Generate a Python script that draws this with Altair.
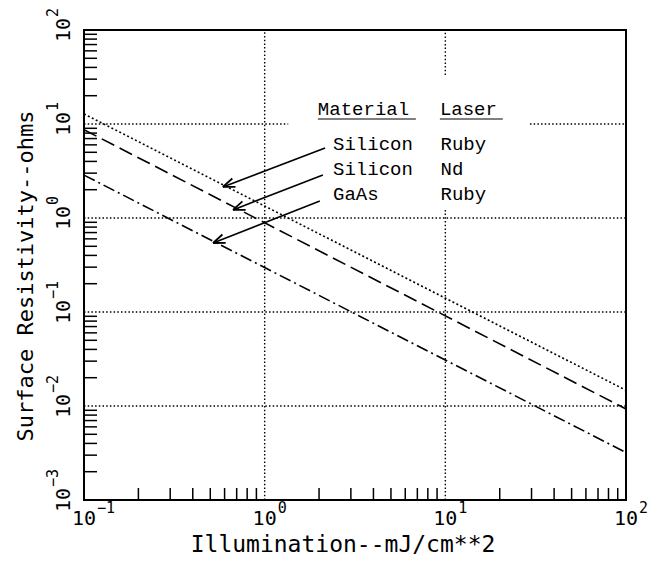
import math
import altair as alt
import pandas as pd

# ---------------- data ----------------
illumination = [0.1, 100]                 # mJ/cm**2, line end points
silicon_ruby = [12.8, 0.0147]             # ohms
silicon_nd = [8.7, 0.0093]
gaas_ruby = [2.86, 0.0032]
series_names = ["Silicon Ruby", "Silicon Nd", "GaAs Ruby"]

# legend block (data coordinates)
header_texts = ["Material", "Laser"]
header_x = [1.97, 9.33]
header_y = 12.5
row_materials = ["Silicon", "Silicon", "GaAs"]
row_lasers = ["Ruby", "Nd", "Ruby"]
row_y = [5.29, 2.87, 1.55]
material_x = 2.39
laser_x = 9.4
underline_y = 11.3
underline_x1 = [1.97, 9.33]
underline_x2 = [6.87, 20.8]

# arrows from legend rows to curves
arrow_tail_x = [2.16, 2.10, 2.02]
arrow_tail_y = [5.56, 2.87, 1.52]
arrow_head_x = [0.587, 0.668, 0.518]
arrow_head_y = [2.14, 1.22, 0.542]

# dotted grid segments (gaps where the legend sits)
grid_h_y = [1, 0.1, 0.01, 10, 10]
grid_h_x1 = [0.1, 0.1, 0.1, 0.1, 29.4]
grid_h_x2 = [100, 100, 100, 1.35, 100]
grid_v_x = [1, 10, 10]
grid_v_y1 = [0.001, 33.2, 0.001]
grid_v_y2 = [100, 100, 1.28]

# axis ticks and labels
x_major = [0.1, 1, 10, 100]
x_exponents = ["\u22121", "0", "1", "2"]
y_major = [0.001, 0.01, 0.1, 1, 10, 100]
y_exponents = ["\u22123", "\u22122", "\u22121", "0", "1", "2"]
x_minor = [0.2, 0.3, 0.4, 0.5, 0.6, 0.7, 0.8, 0.9,
           2, 3, 4, 5, 6, 7, 8, 9,
           20, 30, 40, 50, 60, 70, 80, 90]
y_minor = [0.002, 0.003, 0.004, 0.005, 0.006, 0.007, 0.008, 0.009,
           0.02, 0.03, 0.04, 0.05, 0.06, 0.07, 0.08, 0.09,
           0.2, 0.3, 0.4, 0.5, 0.6, 0.7, 0.8, 0.9,
           2, 3, 4, 5, 6, 7, 8, 9,
           20, 30, 40, 50, 60, 70, 80, 90]

x_title = "Illumination--mJ/cm**2"
y_title = "Surface Resistivity--ohms"

# ---------------- layout ----------------
W, H = 542, 470
LABEL_FONT = "DejaVu Sans Mono"
LEGEND_FONT = "'Liberation Mono', 'Courier New', 'Nimbus Mono PS', FreeMono, monospace"

xs = alt.Scale(type="log", domain=[0.1, 100], nice=False)
ys = alt.Scale(type="log", domain=[0.001, 100], nice=False)


def X(field, **kw):
    return alt.X(field, type="quantitative", scale=xs, axis=None, **kw)


def Y(field, **kw):
    return alt.Y(field, type="quantitative", scale=ys, axis=None, **kw)


# ---------------- tables ----------------
rows = []
for name, vals in zip(series_names, [silicon_ruby, silicon_nd, gaas_ruby]):
    for e, r in zip(illumination, vals):
        rows.append({"series": name, "E": e, "R": r})
lines_df = pd.DataFrame(rows)

grid_h_df = pd.DataFrame({"y": grid_h_y, "x1": grid_h_x1, "x2": grid_h_x2})
grid_v_df = pd.DataFrame({"x": grid_v_x, "y1": grid_v_y1, "y2": grid_v_y2})

px_per_dec_x = W / 3.0
px_per_dec_y = H / 5.0
angles = []
for tx, ty, hx, hy in zip(arrow_tail_x, arrow_tail_y, arrow_head_x, arrow_head_y):
    dxp = (math.log10(hx) - math.log10(tx)) * px_per_dec_x
    dyp = -(math.log10(hy) - math.log10(ty)) * px_per_dec_y
    angles.append(math.degrees(math.atan2(dyp, dxp)) % 360)
arrows_df = pd.DataFrame({"tx": arrow_tail_x, "ty": arrow_tail_y,
                          "hx": arrow_head_x, "hy": arrow_head_y,
                          "ang": angles})

header_df = pd.DataFrame({"t": header_texts, "x": header_x, "y": [header_y] * 2})
rows_df = pd.DataFrame({
    "t": row_materials + row_lasers,
    "x": [material_x] * 3 + [laser_x] * 3,
    "y": row_y + row_y,
})
uline_df = pd.DataFrame({"x1": underline_x1, "x2": underline_x2,
                         "y": [underline_y] * 2})

xlab_df = pd.DataFrame({"v": x_major, "base": ["10"] * 4, "exp": x_exponents})
ylab_df = pd.DataFrame({"v": y_major, "base": ["10"] * 6, "exp": y_exponents})
xminor_df = pd.DataFrame({"v": x_minor})
yminor_df = pd.DataFrame({"v": y_minor})

# ---------------- layers ----------------
grid_h = alt.Chart(grid_h_df).mark_rule(
    color="black", strokeWidth=1.4, strokeDash=[1.5, 2.2]
).encode(x=X("x1:Q"), x2="x2:Q", y=Y("y:Q"))

grid_v = alt.Chart(grid_v_df).mark_rule(
    color="black", strokeWidth=1.4, strokeDash=[1.5, 2.2]
).encode(x=X("x:Q"), y=Y("y1:Q"), y2="y2:Q")

x_ticks = alt.Chart(xminor_df).mark_rule(color="black", strokeWidth=1.5).encode(
    x=X("v:Q"), y=alt.value(H), y2=alt.value(H - 12))

y_ticks = alt.Chart(yminor_df).mark_rule(color="black", strokeWidth=1.5).encode(
    y=Y("v:Q"), x=alt.value(0), x2=alt.value(13))

curves = alt.Chart(lines_df).mark_line(color="black", strokeWidth=1.6).encode(
    x=X("E:Q"), y=Y("R:Q"),
    detail="series:N",
    strokeDash=alt.StrokeDash(
        "series:N",
        scale=alt.Scale(domain=series_names,
                        range=[[2, 2.4], [14, 6], [12, 4, 2, 4]]),
        legend=None),
)

shafts = alt.Chart(arrows_df).mark_rule(color="black", strokeWidth=1.6).encode(
    x=X("tx:Q"), y=Y("ty:Q"), x2="hx:Q", y2="hy:Q")

heads = alt.Chart(arrows_df).mark_point(
    shape="M0,0L-1,-0.38M0,0L-1,0.38", size=560, filled=False,
    color="black", strokeWidth=1.8, opacity=1
).encode(x=X("hx:Q"), y=Y("hy:Q"), angle=alt.Angle("ang:Q", scale=None))

header = alt.Chart(header_df).mark_text(
    font=LEGEND_FONT, fontSize=19, align="left", baseline="alphabetic",
    color="black").encode(x=X("x:Q"), y=Y("y:Q"), text="t:N")

uline = alt.Chart(uline_df).mark_rule(color="black", strokeWidth=1.2).encode(
    x=X("x1:Q"), x2="x2:Q", y=Y("y:Q"))

row_text = alt.Chart(rows_df).mark_text(
    font=LEGEND_FONT, fontSize=19, align="left", baseline="alphabetic",
    color="black").encode(x=X("x:Q"), y=Y("y:Q"), text="t:N")

xlab_base = alt.Chart(xlab_df).mark_text(
    font=LABEL_FONT, fontSize=20, align="center", baseline="alphabetic",
    color="black").encode(x=X("v:Q"), y=alt.value(H + 25), text="base:N")
xlab_exp = alt.Chart(xlab_df).mark_text(
    font=LABEL_FONT, fontSize=15, align="left", baseline="alphabetic",
    dx=13, color="black").encode(x=X("v:Q"), y=alt.value(H + 13), text="exp:N")

ylab_base = alt.Chart(ylab_df).mark_text(
    font=LABEL_FONT, fontSize=20, align="center", baseline="alphabetic",
    angle=270, color="black").encode(y=Y("v:Q"), x=alt.value(-14), text="base:N")
ylab_exp = alt.Chart(ylab_df).mark_text(
    font=LABEL_FONT, fontSize=15, align="left", baseline="alphabetic",
    angle=270, dx=13, dy=-12, color="black").encode(
    y=Y("v:Q"), x=alt.value(-14), text="exp:N")

xtitle = alt.Chart(pd.DataFrame({"t": [x_title]})).mark_text(
    font=LABEL_FONT, fontSize=23, align="center", baseline="alphabetic",
    color="black").encode(x=alt.value(259), y=alt.value(H + 52), text="t:N")
ytitle = alt.Chart(pd.DataFrame({"t": [y_title]})).mark_text(
    font=LABEL_FONT, fontSize=22, align="center", baseline="alphabetic",
    angle=270, color="black").encode(x=alt.value(-51), y=alt.value(246), text="t:N")

chart = alt.layer(
    grid_h, grid_v, x_ticks, y_ticks, curves, shafts, heads,
    header, uline, row_text,
    xlab_base, xlab_exp, ylab_base, ylab_exp, xtitle, ytitle,
).properties(
    width=W, height=H,
    padding={"left": 76, "top": 22, "right": 32, "bottom": 57},
    autosize=alt.AutoSizeParams(type="none"),
    background="white",
).configure_view(stroke="black", strokeWidth=2)

chart.save("out.html", embed_options={"renderer": "svg", "actions": False})
